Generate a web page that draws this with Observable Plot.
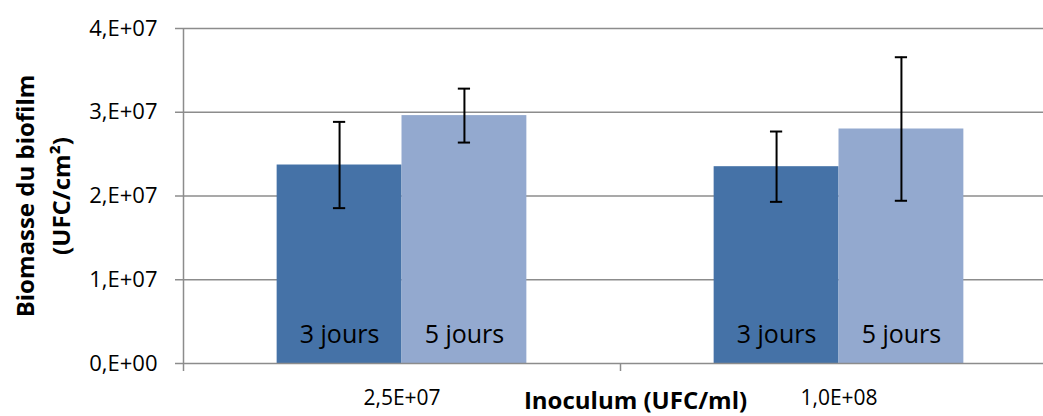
<!DOCTYPE html>
<html><head><meta charset="utf-8">
<script src="https://cdn.jsdelivr.net/npm/d3@7"></script>
<script src="https://cdn.jsdelivr.net/npm/@observablehq/plot@0.6"></script>
<style>html,body{margin:0;padding:0;background:#fff;overflow:hidden}</style>
</head><body><div id="chart"></div>
<script>
const categories = ["2,5E+07", "1,0E+08"];
const seriesNames = ["3 jours", "5 jours"];
const values3j = [2.37e7, 2.35e7];
const values5j = [2.96e7, 2.80e7];
const errors3j = [0.515e7, 0.42e7];
const errors5j = [0.322e7, 0.857e7];
const yTicks = [0, 1e7, 2e7, 3e7, 4e7];
const yTickLabels = ["0,E+00", "1,E+07", "2,E+07", "3,E+07", "4,E+07"];
const xTitle = "Inoculum (UFC/ml)";
const yTitle = "Biomasse du biofilm\n(UFC/cm²)";
const colors = ["#4572A7", "#93A9CF"];
const gridColor = "#8c8c8c";

const gapWidth = 1.5; // Excel gap width (150%)
const barW = 1 / (seriesNames.length + gapWidth);
const capHalf = 0.014;
const seriesValues = [values3j, values5j];
const seriesErrors = [errors3j, errors5j];
const rows = [];
categories.forEach((c, i) => seriesNames.forEach((s, j) => {
  const x1 = i + barW * gapWidth / 2 + j * barW;
  rows.push({category: c, series: s, x1, x2: x1 + barW, xm: x1 + barW / 2,
             value: seriesValues[j][i], err: seriesErrors[j][i]});
}));
const boundaries = categories.map((c, i) => i).concat([categories.length]);
const centers = categories.map((c, i) => i + 0.5);

const chart = Plot.plot({
  width: 1043,
  height: 416,
  marginLeft: 183,
  marginRight: -14,
  marginTop: 28,
  marginBottom: 53,
  style: {fontFamily: "'Open Sans', sans-serif", fontSize: "21px", color: "black", background: "white", overflow: "hidden"},
  x: {domain: [0, categories.length], axis: null},
  y: {domain: [0, 4e7], axis: null},
  color: {domain: seriesNames, range: colors},
  marks: [
    Plot.ruleY(yTicks.slice(1), {stroke: gridColor, strokeWidth: 1.5}),
    Plot.rect(rows, {x1: "x1", x2: "x2", y1: 0, y2: "value", fill: "series", inset: 0}),
    Plot.ruleY([0], {stroke: gridColor, strokeWidth: 1.5}),
    Plot.ruleX([0], {stroke: gridColor, strokeWidth: 1.5}),
    Plot.axisY({ticks: yTicks, tickFormat: d => yTickLabels[yTicks.indexOf(d)], tickSize: 8, tickPadding: 18,
                label: null, stroke: gridColor, strokeWidth: 1.5, fontSize: 22}),
    Plot.axisX({ticks: boundaries, tickSize: 8, tickFormat: () => "", label: null, stroke: gridColor, strokeWidth: 1.5}),
    Plot.axisX({ticks: centers, tickSize: 0, tickPadding: 27, tickFormat: d => categories[Math.floor(d)], label: null, fontSize: 21}),
    Plot.ruleX(rows, {x: "xm", y1: d => d.value - d.err, y2: d => d.value + d.err, stroke: "black", strokeWidth: 2}),
    Plot.ruleY(rows, {y: d => d.value + d.err, x1: d => d.xm - capHalf, x2: d => d.xm + capHalf, stroke: "black", strokeWidth: 2}),
    Plot.ruleY(rows, {y: d => d.value - d.err, x1: d => d.xm - capHalf, x2: d => d.xm + capHalf, stroke: "black", strokeWidth: 2}),
    Plot.text(rows, {x: "xm", y: 0, text: "series", dy: -29, fontSize: 25, fill: "black"}),
    Plot.text([xTitle], {text: d => d, frameAnchor: "bottom", textAnchor: "middle", dy: 45, dx: 15, fontSize: 24, fontWeight: "bold"}),
    Plot.text([yTitle], {text: d => d, frameAnchor: "left", textAnchor: "middle", dx: -143, rotate: -90, fontSize: 24, fontWeight: "bold", lineHeight: 1.5})
  ]
});
document.getElementById("chart").appendChild(chart);
</script>
</body></html>
